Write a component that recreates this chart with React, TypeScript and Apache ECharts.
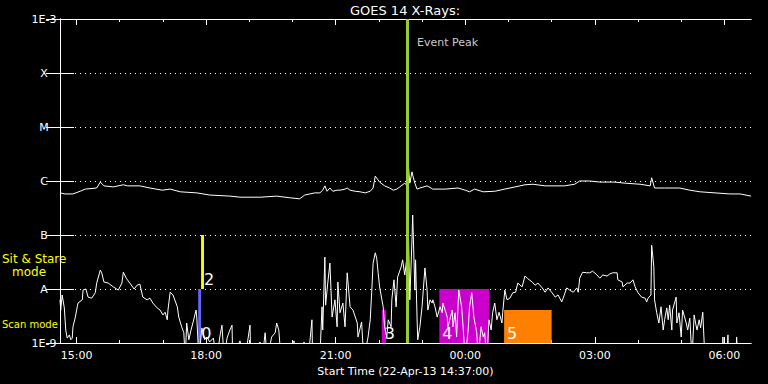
import React, { useEffect, useRef } from 'react';
import * as echarts from 'echarts';

// x values: minutes after start time 14:37:00 (22-Apr-13); y values: log10 of flux (W/m^2)
const titleText = 'GOES 14 X-Rays:';
const xTitle = 'Start Time (22-Apr-13 14:37:00)';
const spanMinutes = 960;
const hourTicks = [23, 83, 143, 203, 263, 323, 383, 443, 503, 563, 623, 683, 743, 803, 863, 923];
const majorTicks = [23, 203, 383, 563, 743, 923];
const majorLabels = ['15:00', '18:00', '21:00', '00:00', '03:00', '06:00'];
const yLevels = [-9, -8, -7, -6, -5, -4, -3];
const yLabels = ['1E-9', 'A', 'B', 'C', 'M', 'X', '1E-3'];

const longChannel = [
  [0, -6.22], [7, -6.24], [18, -6.24], [28, -6.19], [35, -6.15], [51, -6.13], [56, -6.02], [61, -6.09],
  [74, -6.11], [88, -6.07], [94, -6.09], [111, -6.09], [125, -6.13], [142, -6.17], [153, -6.15], [167, -6.2],
  [190, -6.22], [208, -6.26], [236, -6.28], [250, -6.3], [278, -6.3], [301, -6.28], [319, -6.31], [333, -6.33],
  [340, -6.26], [354, -6.22], [361, -6.22], [365, -6.17], [368, -6.09], [371, -6.19], [375, -6.13], [379, -6.19],
  [385, -6.17], [389, -6.17], [396, -6.15], [399, -6.13], [403, -6.17], [410, -6.19], [417, -6.2], [424, -6.22],
  [431, -6.19], [435, -6.13], [438, -5.91], [444, -6.02], [451, -6.09], [458, -6.13], [463, -6.17], [468, -6.15],
  [472, -6.11], [479, -6.04], [481, -6.07], [483, -5.56], [486, -6.04], [489, -5.83], [490, -5.89], [493, -6.04],
  [496, -6.15], [500, -6.13], [510, -6.09], [518, -6.15], [535, -6.15], [553, -6.13], [563, -6.17], [569, -6.2],
  [576, -6.15], [588, -6.2], [604, -6.19], [618, -6.15], [632, -6.11], [646, -6.07], [657, -6.06], [674, -6.09],
  [701, -6.09], [715, -6.06], [722, -6.0], [736, -6.0], [750, -6.02], [771, -6.02], [785, -6.04], [806, -6.06],
  [820, -6.09], [822, -5.94], [826, -6.13], [840, -6.13], [861, -6.13], [875, -6.17], [889, -6.2], [910, -6.22],
  [931, -6.24], [945, -6.24], [960, -6.28],
];

const shortChannel = [
  [0, -8.2], [1, -8.39], [3, -8.11], [6, -8.35], [8, -8.76], [10, -8.91], [13, -8.85], [15, -8.94], [17, -8.91],
  [18, -8.7], [21, -8.54], [24, -8.33], [25, -8.26], [31, -8.2], [32, -8.02], [36, -8.0], [39, -8.15], [44, -8.17],
  [49, -8.07], [51, -7.89], [56, -7.65], [58, -7.7], [61, -7.87], [67, -7.89], [74, -7.96], [81, -8.02], [86, -7.89],
  [88, -7.69], [92, -7.8], [97, -7.89], [103, -8.0], [107, -7.93], [111, -7.91], [115, -8.15], [121, -8.2],
  [125, -8.17], [129, -8.26], [135, -8.35], [139, -8.39], [143, -8.48], [146, -8.43], [149, -8.57], [150, -8.39],
  [153, -8.06], [157, -8.11], [163, -8.33], [165, -8.52], [169, -8.7], [172, -8.81], [174, -9.3], [176, -8.63],
  [179, -8.94], [182, -8.76], [185, -8.61], [189, -8.39], [190, -8.52], [193, -9.3], [197, -8.72], [201, -8.94],
  [204, -8.89], [208, -8.98], [213, -8.91], [218, -9.3], [222, -8.89], [225, -8.67], [228, -9.3], [232, -8.91],
  [236, -8.76], [239, -8.67], [240, -9.3], [250, -8.96], [257, -9.3], [264, -8.67], [265, -9.3], [278, -8.98],
  [281, -9.3], [285, -8.81], [288, -9.3], [294, -8.89], [299, -8.81], [301, -8.63], [304, -8.76], [307, -9.3],
  [324, -9.3], [325, -8.96], [328, -9.3], [338, -9.3], [339, -8.98], [343, -9.3], [347, -9.0], [350, -8.57],
  [351, -9.3], [361, -9.3], [364, -8.33], [365, -8.76], [368, -7.41], [369, -8.3], [372, -7.89], [375, -7.52],
  [378, -8.52], [382, -8.2], [385, -8.7], [386, -7.87], [389, -8.44], [393, -8.26], [396, -8.7], [399, -7.7],
  [403, -8.33], [407, -8.39], [413, -8.63], [414, -8.89], [419, -8.61], [422, -9.3], [428, -8.89], [431, -8.57],
  [433, -8.07], [435, -7.52], [438, -7.33], [440, -7.43], [442, -7.7], [444, -7.96], [449, -8.33], [451, -8.7],
  [454, -8.89], [456, -8.57], [460, -8.7], [461, -8.2], [464, -7.83], [467, -8.33], [469, -7.78], [474, -7.59],
  [476, -7.46], [479, -7.74], [482, -7.41], [483, -6.3], [486, -8.2], [489, -7.09], [490, -6.63], [493, -8.02],
  [494, -7.46], [496, -8.52], [497, -8.94], [500, -8.7], [503, -8.33], [504, -8.15], [507, -7.61], [510, -8.02],
  [511, -8.39], [514, -8.2], [517, -8.26], [518, -8.2], [521, -8.33], [524, -8.52], [528, -8.33], [531, -8.44],
  [532, -8.26], [538, -8.52], [539, -8.7], [545, -8.39], [546, -8.7], [549, -8.44], [551, -8.89], [554, -8.02],
  [558, -8.33], [560, -8.7], [563, -9.3], [567, -8.76], [569, -8.33], [572, -8.07], [575, -8.52], [579, -8.81],
  [581, -9.3], [585, -8.7], [588, -8.89], [590, -8.81], [593, -9.3], [596, -8.57], [599, -8.76], [601, -8.44],
  [604, -8.26], [607, -8.57], [610, -8.43], [614, -8.63], [615, -8.44], [618, -8.02], [621, -8.2], [625, -8.17],
  [629, -8.07], [633, -8.06], [636, -7.89], [642, -7.96], [646, -7.76], [650, -7.81], [656, -7.87], [660, -7.93],
  [664, -7.89], [670, -7.98], [674, -8.06], [678, -7.98], [683, -8.06], [688, -8.15], [692, -8.11], [697, -8.24],
  [699, -8.17], [704, -7.98], [708, -8.02], [713, -8.06], [718, -7.98], [720, -8.06], [722, -7.8], [726, -7.69],
  [732, -7.7], [736, -7.7], [740, -7.67], [746, -7.74], [750, -7.8], [754, -7.74], [760, -7.76], [764, -7.72],
  [768, -7.7], [774, -7.7], [775, -7.83], [781, -7.87], [782, -7.96], [788, -7.89], [792, -7.89], [796, -7.83],
  [799, -7.96], [803, -8.07], [808, -8.15], [813, -8.17], [815, -8.24], [817, -8.17], [821, -8.11], [822, -7.19],
  [825, -7.59], [826, -8.2], [829, -8.44], [832, -8.63], [835, -8.33], [838, -8.76], [840, -8.57], [843, -8.35],
  [845, -8.57], [847, -8.3], [850, -8.76], [851, -8.39], [856, -8.15], [857, -8.63], [860, -8.44], [863, -8.89],
  [865, -8.39], [870, -8.63], [872, -8.76], [875, -8.54], [878, -9.3], [881, -8.48], [883, -8.63], [885, -8.76],
  [888, -8.57], [890, -8.72], [893, -8.43], [896, -9.3], [920, -9.3], [921, -8.89], [922, -9.3], [926, -9.3],
  [928, -8.85], [929, -9.3], [939, -9.3], [940, -8.89], [942, -9.3], [960, -9.3],
];

const boxLabels = ['0', '2', '3', '4', '5'];
const boxStarts = [192, 196, 447, 527, 617];
const boxEnds = [196, 200, 453, 596, 683];
const boxLows = [-9, -8, -9, -9, -9];
const boxHighs = [-8, -7, -8.39, -8, -8.39];
const boxColors = ['#6464ff', '#ffff00', '#cc00cc', '#cc00cc', '#ff8000'];

const eventPeak = 482;
const eventLabel = 'Event Peak';
const eventLabelLevel = -3.435;

const FONT = 'DejaVu Sans';

export default function App() {
  const ref = useRef<HTMLDivElement>(null);
  useEffect(() => {
    if (!ref.current) return;
    const chart = echarts.init(ref.current, null, { renderer: 'svg' });
    const white = '#ffffff';
    const baseX = {
      type: 'value',
      min: 0,
      max: spanMinutes,
      splitLine: { show: false },
      axisLine: { show: true, lineStyle: { color: white, width: 1 } },
    };
    const xAxes = [
      {
        ...baseX,
        position: 'bottom',
        axisTick: { show: true, inside: true, length: 6, customValues: majorTicks, lineStyle: { color: white } },
        axisLabel: {
          show: true,
          customValues: majorTicks,
          color: white,
          fontSize: 11,
          fontFamily: FONT,
          margin: 7,
          formatter: (v: number) => {
            const i = majorTicks.indexOf(Math.round(v));
            return i >= 0 ? majorLabels[i] : '';
          },
        },
        name: xTitle,
        nameLocation: 'middle',
        nameGap: 18,
        nameTextStyle: { color: white, fontSize: 11, fontFamily: FONT },
      },
      {
        ...baseX,
        position: 'bottom',
        axisTick: { show: true, inside: true, length: 3, customValues: hourTicks, lineStyle: { color: white } },
        axisLabel: { show: false },
      },
      {
        ...baseX,
        position: 'top',
        axisTick: { show: true, inside: true, length: 6, customValues: majorTicks, lineStyle: { color: white } },
        axisLabel: { show: false },
      },
      {
        ...baseX,
        position: 'top',
        axisTick: { show: true, inside: true, length: 3, customValues: hourTicks, lineStyle: { color: white } },
        axisLabel: { show: false },
      },
    ];
    const yAxes = [
      {
        type: 'value',
        position: 'left',
        min: -9,
        max: -3,
        interval: 1,
        axisLine: { show: true, lineStyle: { color: white, width: 1 } },
        axisTick: { show: true, inside: true, length: 14, lineStyle: { color: white } },
        axisLabel: {
          color: white,
          fontSize: 11,
          fontFamily: FONT,
          align: 'center',
          margin: 16,
          formatter: (v: number) => {
            const i = yLevels.indexOf(Math.round(v));
            return i >= 0 ? yLabels[i] : '';
          },
        },
        splitLine: { show: true, lineStyle: { color: white, width: 1, type: [1, 4] } },
      },
      {
        type: 'value',
        position: 'right',
        min: -9,
        max: -3,
        interval: 1,
        axisLine: { show: true, lineStyle: { color: white, width: 1 } },
        axisTick: { show: true, inside: true, length: 14, lineStyle: { color: white } },
        axisLabel: { show: false },
        splitLine: { show: false },
      },
    ];
    const boxData = boxLabels.map((_, i) => [boxStarts[i], boxEnds[i], boxLows[i], boxHighs[i]]);
    chart.setOption({
      animation: false,
      backgroundColor: '#000000',
      grid: { left: 60, right: 17, top: 19, bottom: 41, containLabel: false },
      xAxis: xAxes,
      yAxis: yAxes,
      graphic: [
        {
          type: 'text',
          x: 405,
          y: 10,
          style: { text: titleText, fill: white, fontSize: 13, fontFamily: FONT, align: 'center', verticalAlign: 'middle' },
        },
        {
          type: 'text',
          x: 2,
          y: 259,
          style: { text: 'Sit & Stare', fill: '#ffff00', fontSize: 12, fontFamily: FONT, align: 'left', verticalAlign: 'middle' },
        },
        {
          type: 'text',
          x: 12,
          y: 272,
          style: { text: 'mode', fill: '#ffff00', fontSize: 12, fontFamily: FONT, align: 'left', verticalAlign: 'middle' },
        },
        {
          type: 'text',
          x: 2,
          y: 324,
          style: { text: 'Scan mode', fill: '#ffff00', fontSize: 10, fontFamily: FONT, align: 'left', verticalAlign: 'middle' },
        },
      ],
      series: [
        {
          type: 'custom',
          xAxisIndex: 0,
          yAxisIndex: 0,
          clip: true,
          z: 1,
          data: boxData,
          renderItem: (params: any, api: any) => {
            const idx = params.dataIndex;
            const p0 = api.coord([api.value(0), api.value(3)]);
            const p1 = api.coord([api.value(1), api.value(2)]);
            return {
              type: 'group',
              children: [
                {
                  type: 'rect',
                  shape: { x: p0[0], y: p0[1], width: p1[0] - p0[0], height: p1[1] - p0[1] },
                  style: { fill: boxColors[idx] },
                },
                {
                  type: 'text',
                  x: p0[0] + 3,
                  y: p1[1] - 10,
                  style: {
                    text: boxLabels[idx],
                    fill: white,
                    fontSize: 16,
                    fontFamily: FONT,
                    align: 'left',
                    verticalAlign: 'middle',
                  },
                },
              ],
            };
          },
        },
        {
          type: 'line',
          data: longChannel,
          showSymbol: false,
          symbol: 'none',
          clip: true,
          z: 3,
          lineStyle: { color: white, width: 1 },
        },
        {
          type: 'line',
          data: shortChannel,
          showSymbol: false,
          symbol: 'none',
          clip: true,
          z: 3,
          lineStyle: { color: white, width: 1 },
        },
        {
          type: 'scatter',
          data: [[eventPeak, eventLabelLevel]],
          symbolSize: 0,
          z: 5,
          label: {
            show: true,
            position: 'right',
            distance: 10,
            formatter: eventLabel,
            color: white,
            fontSize: 11,
            fontFamily: FONT,
          },
          markLine: {
            silent: true,
            symbol: 'none',
            label: { show: false },
            lineStyle: { color: '#99cc33', width: 3, type: 'solid' },
            data: [{ xAxis: eventPeak }],
            z: 5,
          },
        },
      ],
    } as any);
    return () => chart.dispose();
  }, []);
  return (
    <div
      ref={ref}
      style={{ position: 'fixed', left: 0, top: 0, width: 768, height: 384, background: '#000' }}
    />
  );
}
